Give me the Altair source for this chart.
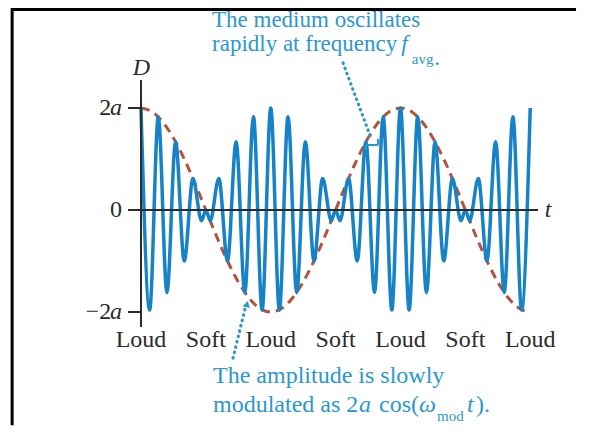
import altair as alt
import pandas as pd

# ---- data ----
# blue wave: extrema positions (t in carrier half-periods) and displacement D (units of a)
wave_t = [0, 1, 2, 3, 4, 5, 6, 7, 7.5, 8, 9, 10, 11, 12, 13, 14, 15,
          16, 17, 18, 19, 20, 21, 22, 22.5, 23, 24, 25, 26, 27, 28, 29, 30,
          31, 32, 33, 34, 35, 36, 37, 37.5, 38, 39, 40, 41, 42, 43, 44, 45]
wave_d = [2.00, -1.96, 1.83, -1.62, 1.34, -1.00, 0.62, -0.21, 0.00, -0.21, 0.62, -1.00, 1.34, -1.62, 1.83, -1.96, 2.00,
          -1.96, 1.83, -1.62, 1.34, -1.00, 0.62, -0.21, 0.00, -0.21, 0.62, -1.00, 1.34, -1.62, 1.83, -1.96, 2.00,
          -1.96, 1.83, -1.62, 1.34, -1.00, 0.62, -0.21, 0.00, -0.21, 0.62, -1.00, 1.34, -1.62, 1.83, -1.96, 2.00]

# dashed envelope 2a cos(w_mod t)
env_t = [0, 1.25, 2.5, 3.75, 5, 6.25, 7.5, 8.75, 10, 11.25, 12.5, 13.75, 15,
         16.25, 17.5, 18.75, 20, 21.25, 22.5, 23.75, 25, 26.25, 27.5, 28.75, 30,
         31.25, 32.5, 33.75, 35, 36.25, 37.5, 38.75, 40, 41.25, 42.5, 43.75, 45]
env_d = [2.00, 1.93, 1.73, 1.41, 1.00, 0.52, 0.00, -0.52, -1.00, -1.41, -1.73, -1.93, -2.00,
         -1.93, -1.73, -1.41, -1.00, -0.52, 0.00, 0.52, 1.00, 1.41, 1.73, 1.93, 2.00,
         1.93, 1.73, 1.41, 1.00, 0.52, 0.00, -0.52, -1.00, -1.41, -1.73, -1.93, -2.00]

beat_t = [0, 7.5, 15, 22.5, 30, 37.5, 45]
beat_labels = ["Loud", "Soft", "Loud", "Soft", "Loud", "Soft", "Loud"]

ytick_vals = [2, 0, -2]
ytick_num = ["2", "0", "\u22122"]
ytick_sym = ["a", "", "a"]

# ---- styling / layout ----
X_DOM = [0, 45.9]
Y_DOM = [-2.294, 2.549]
BLUE = "#1683c6"
NOTE = "#2a98cf"
RED = "#b4533c"
INK = "#2b2b2b"
FONT = "Liberation Serif"

xs = alt.Scale(domain=X_DOM, nice=False, zero=False)
ys = alt.Scale(domain=Y_DOM, nice=False, zero=False)


def XY(field_x="x", field_y="y"):
    return dict(x=alt.X(f"{field_x}:Q", scale=xs, axis=None),
                y=alt.Y(f"{field_y}:Q", scale=ys, axis=None))


def segs(rows, **mk):
    df = pd.DataFrame(rows, columns=["x", "y", "x2", "y2"])
    return alt.Chart(df).mark_rule(clip=False, **mk).encode(
        **XY(), x2="x2:Q", y2="y2:Q")


def texts(rows, **mk):
    df = pd.DataFrame(rows, columns=["x", "y", "text"])
    return alt.Chart(df).mark_text(clip=False, font=FONT, **mk).encode(
        **XY(), text="text:N")


wave_df = pd.DataFrame({"x": wave_t, "y": wave_d})
env_df = pd.DataFrame({"x": env_t, "y": env_d})

# frame kept fully inside the drawing surface
frame = segs([[-14.9, 3.931, 50.3, 3.931], [-14.9, 3.96, -14.9, -4.22]],
             color="black", strokeWidth=3)

envelope = alt.Chart(env_df).mark_line(
    clip=False, color=RED, strokeWidth=3, strokeDash=[9, 6], interpolate="monotone"
).encode(**XY())

wave = alt.Chart(wave_df).mark_line(
    clip=False, color=BLUE, strokeWidth=3.5, interpolate="monotone"
).encode(**XY())

axes = segs([[0, Y_DOM[1], 0, Y_DOM[0]], [0, 0, X_DOM[1], 0]],
            color=INK, strokeWidth=2)
ticks = segs([[-1.5, v, 0, v] for v in ytick_vals], color=INK, strokeWidth=2)

tick_num = texts([[-3.45 if s else -2.2, v, n] for v, n, s in zip(ytick_vals, ytick_num, ytick_sym)],
                 fontSize=24, color=INK, align="right", baseline="middle")
tick_sym = texts([[-2.2, v, s] for v, s in zip(ytick_vals, ytick_sym) if s],
                 fontSize=24, color=INK, align="right", baseline="middle", fontStyle="italic")
axis_names = texts([[0.05, 2.784, "D"], [47.06, 0.0, "t"]],
                   fontSize=24, color=INK, align="center", baseline="middle", fontStyle="italic")
beats = texts([[t, -2.549, s] for t, s in zip(beat_t, beat_labels)],
              fontSize=24, color=INK, align="center", baseline="middle")

# annotations
note_top = texts([[8.21, 3.588, "The medium oscillates"],
                  [8.21, 3.118, "rapidly at frequency"]],
                 fontSize=23, color=NOTE, align="left", baseline="alphabetic")
note_f = texts([[30.1, 3.118, "f"]],
               fontSize=23, color=NOTE, align="left", baseline="alphabetic", fontStyle="italic")
note_plain = texts([[8.325, -3.392, "The amplitude is slowly"],
                    [8.325, -3.961, "modulated as 2"],
                    [27.52, -3.961, "cos("],
                    [38.73, -3.961, ")."]],
                   fontSize=24, color=NOTE, align="left", baseline="alphabetic")
note_ital = texts([[25.2, -3.961, "a"],
                   [32.14, -3.961, "\u03c9"],
                   [37.69, -3.961, "t"]],
                  fontSize=24, color=NOTE, align="left", baseline="alphabetic", fontStyle="italic")
note_sub = texts([[31.3, 2.863, "avg"], [34.22, -4.137, "mod"]],
                 fontSize=15, color=NOTE, align="left", baseline="alphabetic")
note_dot = texts([[33.9, 2.843, "."]], fontSize=23, color=NOTE, align="left", baseline="alphabetic")

leaders = segs([[23.36, 2.882, 26.59, 1.412], [10.64, -2.902, 12.02, -1.941]],
               color=NOTE, strokeWidth=3.2, strokeDash=[0.5, 5], strokeCap="round")
bracket = segs([[26.01, 1.275, 27.40, 1.275], [27.40, 1.275, 27.40, 1.392],
                [26.01, 1.275, 26.01, 1.176]],
               color=NOTE, strokeWidth=2)
arrow = alt.Chart(pd.DataFrame({"x": [12.26], "y": [-1.843]})).mark_point(
    clip=False, shape="triangle-up", filled=True, size=55, angle=15, color=NOTE, opacity=1
).encode(**XY())

chart = alt.layer(
    frame, envelope, wave, axes, ticks, tick_num, tick_sym, axis_names, beats,
    note_top, note_f, note_plain, note_ital, note_sub, note_dot, leaders, bracket, arrow
).properties(
    width=397, height=247,
    autosize=alt.AutoSizeParams(type="none"),
    padding={"left": 133, "top": 72, "right": 40, "bottom": 100},
    background="white",
).configure_view(stroke=None)

chart.save("out.html", embed_options={"renderer": "svg", "actions": False})
